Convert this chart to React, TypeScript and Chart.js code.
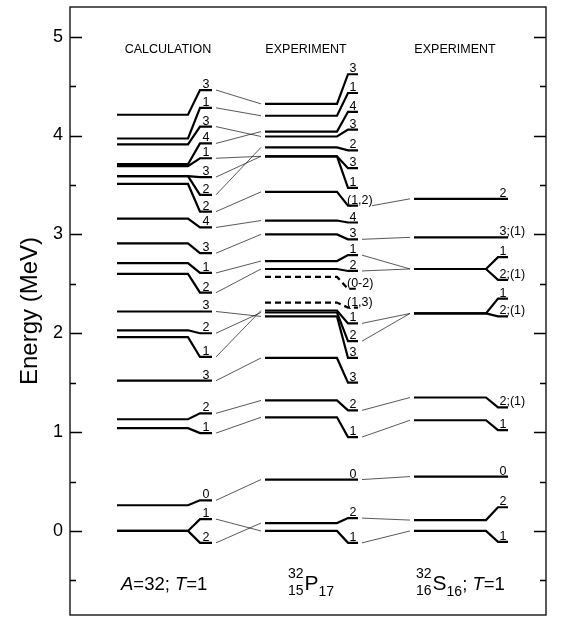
import React, { useEffect, useRef } from "react";
import { Chart, registerables } from "chart.js";
Chart.register(...registerables);

const FONT = '"Liberation Sans", Arial, Helvetica, sans-serif';

// ---------- axis ----------
const yMajorTicks = [0, 1, 2, 3, 4, 5];
const yMinorTicks = [-0.5, 0.5, 1.5, 2.5, 3.5, 4.5];
const yTitle = "Energy (MeV)";
const columnTitles = ["CALCULATION", "EXPERIMENT", "EXPERIMENT"];

// ---------- calculation (A=32; T=1) ----------
const calcEnergy = [4.21, 3.97, 3.91, 3.71, 3.69, 3.59, 3.59, 3.51, 3.16, 2.91, 2.71, 2.60, 2.22, 2.03, 1.96, 1.52, 1.13, 1.04, 0.26, 0.0, 0.0];
const calcTagEnergy = [4.46, 4.28, 4.09, 3.92, 3.77, 3.58, 3.40, 3.23, 3.07, 2.81, 2.61, 2.41, 2.22, 2.00, 1.76, 1.52, 1.19, 0.99, 0.31, 0.12, -0.12];
const calcSpin = ["3", "1", "3", "4", "1", "3", "2", "2", "4", "3", "1", "2", "3", "2", "1", "3", "2", "1", "0", "1", "2"];
const calcTentative = calcSpin.map(() => false);

// ---------- experiment 32P ----------
const pEnergy = [4.32, 4.20, 4.04, 3.99, 3.88, 3.79, 3.79, 3.43, 3.14, 3.00, 2.73, 2.65, 2.57, 2.31, 2.23, 2.21, 2.17, 1.75, 1.32, 1.15, 0.52, 0.08, 0.0];
const pTagEnergy = [4.62, 4.43, 4.24, 4.06, 3.85, 3.67, 3.47, 3.29, 3.12, 2.95, 2.79, 2.63, 2.45, 2.26, 2.10, 1.92, 1.75, 1.50, 1.22, 0.95, 0.52, 0.13, -0.12];
const pSpin = ["3", "1", "4", "3", "2", "3", "1", "(1,2)", "4", "3", "1", "2", "(0-2)", "(1,3)", "1", "2", "3", "3", "2", "1", "0", "2", "1"];
const pTentative = [false, false, false, false, false, false, false, false, false, false, false, false, true, true, false, false, false, false, false, false, false, false, false];

// ---------- experiment 32S (T=1) ----------
const sEnergy = [3.36, 2.97, 2.65, 2.65, 2.20, 2.20, 1.35, 1.12, 0.55, 0.11, 0.0];
const sTagEnergy = [3.36, 2.97, 2.77, 2.54, 2.35, 2.17, 1.25, 1.02, 0.55, 0.24, -0.11];
const sSpin = ["2", "3;(1)", "1", "2;(1)", "1", "2;(1)", "2;(1)", "1", "0", "2", "1"];
const sTentative = sSpin.map(() => false);

// ---------- correspondences ----------
const calcToP = [[0, 0], [1, 1], [2, 3], [3, 2], [4, 5], [5, 5], [6, 4], [7, 7], [8, 8], [9, 9], [10, 10], [11, 11], [12, 16], [13, 15], [14, 14], [15, 17], [16, 18], [17, 19], [18, 20], [19, 22], [20, 21]];
const pToS = [[7, 0], [9, 1], [10, 2], [11, 2], [14, 4], [15, 4], [18, 6], [19, 7], [20, 8], [21, 9], [22, 10]];

// ---------- layout (x in chart units) ----------
const COLS = [
  { start: 117, end: 188, tagStart: 200, tagEnd: 212, center: 168 },
  { start: 265, end: 337, tagStart: 348, tagEnd: 358, center: 306 },
  { start: 414, end: 486, tagStart: 498, tagEnd: 508, center: 455 },
];
const columns = [
  { e: calcEnergy, t: calcTagEnergy, j: calcSpin, dash: calcTentative, g: COLS[0] },
  { e: pEnergy, t: pTagEnergy, j: pSpin, dash: pTentative, g: COLS[1] },
  { e: sEnergy, t: sTagEnergy, j: sSpin, dash: sTentative, g: COLS[2] },
];

function levelDataset(g: any, e: number, te: number, dashed: boolean) {
  return {
    data: [
      { x: g.start, y: e },
      { x: g.end, y: e },
      { x: g.tagStart, y: te },
      { x: g.tagEnd, y: te },
    ],
    showLine: true,
    borderColor: "#000",
    borderWidth: 2.2,
    borderDash: dashed ? [6, 4] : [],
    pointRadius: 0,
    fill: false,
    tension: 0,
  };
}

function connector(x1: number, y1: number, x2: number, y2: number) {
  return {
    data: [{ x: x1, y: y1 }, { x: x2, y: y2 }],
    showLine: true,
    borderColor: "#111",
    borderWidth: 0.7,
    pointRadius: 0,
    fill: false,
    tension: 0,
  };
}

function buildDatasets() {
  const ds: any[] = [];
  columns.forEach((c) => {
    c.e.forEach((e, i) => ds.push(levelDataset(c.g, e, c.t[i], c.dash[i])));
  });
  calcToP.forEach(([a, b]) => {
    ds.push(connector(COLS[0].tagEnd + 4, calcTagEnergy[a], COLS[1].start - 4, pEnergy[b]));
  });
  pToS.forEach(([a, b]) => {
    const x0 = pSpin[a].length > 1 ? COLS[1].tagEnd + 14 : COLS[1].tagEnd + 4;
    ds.push(connector(x0, pTagEnergy[a], COLS[2].start - 4, sEnergy[b]));
  });
  return ds;
}

type Seg = { text?: string; size: number; italic?: boolean; dy?: number; sup?: string; sub?: string };

function drawRich(ctx: CanvasRenderingContext2D, segs: Seg[], x: number, base: number) {
  let cx = x;
  ctx.textAlign = "left";
  ctx.textBaseline = "alphabetic";
  segs.forEach((s) => {
    if (s.sup !== undefined) {
      ctx.font = `${s.size}px ${FONT}`;
      const w = Math.max(ctx.measureText(s.sup).width, ctx.measureText(s.sub || "").width);
      ctx.fillText(s.sup, cx + w - ctx.measureText(s.sup).width, base - 12);
      ctx.fillText(s.sub || "", cx + w - ctx.measureText(s.sub || "").width, base + 5);
      cx += w + 1;
    } else {
      ctx.font = `${s.italic ? "italic " : ""}${s.size}px ${FONT}`;
      ctx.fillText(s.text!, cx, base + (s.dy || 0));
      cx += ctx.measureText(s.text!).width;
    }
  });
}

const bottomLabels: { x: number; segs: Seg[] }[] = [
  { x: 121, segs: [{ text: "A", size: 18.5, italic: true }, { text: "=32; ", size: 18.5 }, { text: "T", size: 18.5, italic: true }, { text: "=1", size: 18.5 }] },
  { x: 288, segs: [{ sup: "32", sub: "15", size: 14 }, { text: "P", size: 21 }, { text: "17", size: 14, dy: 6 }] },
  { x: 416, segs: [{ sup: "32", sub: "16", size: 14 }, { text: "S", size: 21 }, { text: "16", size: 14, dy: 6 }, { text: "; ", size: 18.5 }, { text: "T", size: 18.5, italic: true }, { text: "=1", size: 18.5 }] },
];

const annotationPlugin = {
  id: "levelAnnotations",
  afterDatasetsDraw(chart: any) {
    const { ctx, scales } = chart;
    const x = scales.x;
    const y = scales.y;
    ctx.save();
    ctx.fillStyle = "#000";
    // spin labels
    ctx.font = `12.5px ${FONT}`;
    ctx.textBaseline = "alphabetic";
    ctx.textAlign = "left";
    columns.forEach((c) => {
      c.j.forEach((txt, i) => {
        const py = y.getPixelForValue(c.t[i]) - 2;
        const mid = x.getPixelForValue((c.g.tagStart + c.g.tagEnd) / 2);
        let left: number;
        if (txt.startsWith("(")) left = x.getPixelForValue(c.g.tagStart) - 1;
        else left = mid - ctx.measureText(txt[0]).width / 2;
        ctx.fillText(txt, left, py);
      });
    });
    // column titles
    ctx.font = `12.5px ${FONT}`;
    ctx.textAlign = "center";
    ctx.textBaseline = "middle";
    columnTitles.forEach((t, i) => {
      ctx.fillText(t, x.getPixelForValue(COLS[i].center), y.getPixelForValue(4.87));
    });
    // nucleus labels
    const base = y.getPixelForValue(-0.6);
    bottomLabels.forEach((b) => drawRich(ctx, b.segs, x.getPixelForValue(b.x), base));
    ctx.restore();
  },
  afterDraw(chart: any) {
    const { ctx, chartArea: a, scales } = chart;
    const y = scales.y;
    ctx.save();
    ctx.strokeStyle = "#000";
    ctx.lineWidth = 1.3;
    ctx.strokeRect(a.left, a.top, a.right - a.left, a.bottom - a.top);
    ctx.lineWidth = 1.3;
    ctx.beginPath();
    yMajorTicks.forEach((v) => {
      const py = Math.round(y.getPixelForValue(v)) + 0.5;
      ctx.moveTo(a.left, py); ctx.lineTo(a.left + 12, py);
      ctx.moveTo(a.right, py); ctx.lineTo(a.right - 12, py);
    });
    yMinorTicks.forEach((v) => {
      const py = Math.round(y.getPixelForValue(v)) + 0.5;
      ctx.moveTo(a.left, py); ctx.lineTo(a.left + 6, py);
      ctx.moveTo(a.right, py); ctx.lineTo(a.right - 6, py);
    });
    ctx.stroke();
    ctx.restore();
  },
};

export default function App() {
  const ref = useRef<HTMLCanvasElement>(null);
  useEffect(() => {
    document.body.style.margin = "0";
    const chart = new Chart(ref.current!, {
      type: "scatter",
      data: { datasets: buildDatasets() },
      options: {
        animation: false,
        responsive: false,
        devicePixelRatio: 1,
        layout: { padding: { left: 0, right: 15, top: 7, bottom: 6 } },
        plugins: { legend: { display: false }, tooltip: { enabled: false } },
        scales: {
          x: { type: "linear", min: 70, max: 546, display: false },
          y: {
            type: "linear",
            min: -0.85,
            max: 5.3,
            position: "left",
            afterBuildTicks: (axis: any) => {
              axis.ticks = yMajorTicks.map((v) => ({ value: v }));
            },
            afterFit: (scale: any) => {
              scale.width = 70;
              scale.paddingTop = 0;
              scale.paddingBottom = 0;
            },
            grid: { display: false, drawTicks: false },
            border: { display: false },
            ticks: {
              color: "#000",
              padding: 7,
              font: { family: FONT, size: 18 },
              callback: (v: any) => String(v),
            },
            title: {
              display: true,
              text: yTitle,
              color: "#000",
              font: { family: FONT, size: 24 },
              padding: { top: 16, bottom: 0 },
            },
          },
        },
      } as any,
      plugins: [annotationPlugin],
    });
    return () => chart.destroy();
  }, []);
  return (
    <div style={{ width: 561, height: 621 }}>
      <canvas ref={ref} width={561} height={621} style={{ display: "block" }} />
    </div>
  );
}
